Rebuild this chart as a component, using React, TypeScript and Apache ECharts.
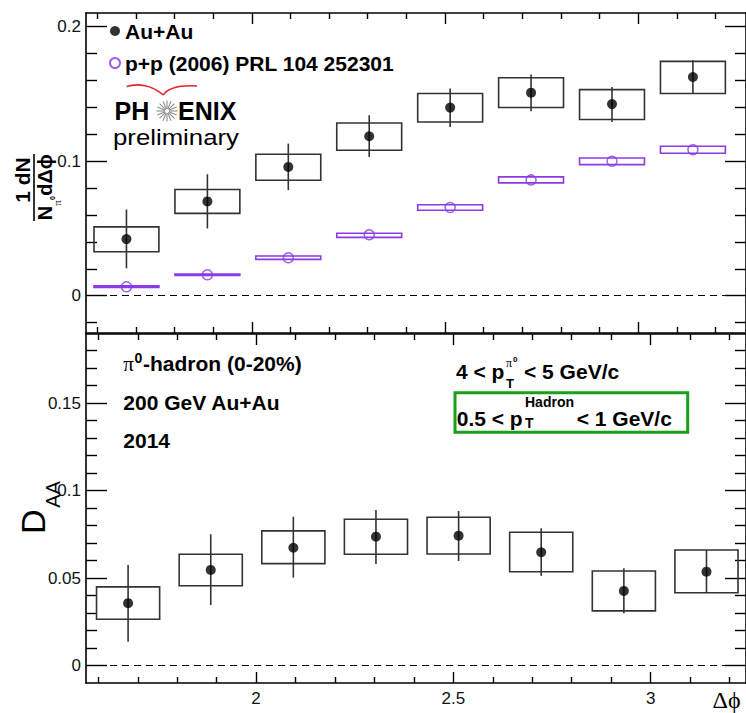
import React, { useEffect, useRef } from 'react';
import * as echarts from 'echarts';

// ---- data ----
const dphi = [1.6755, 1.885, 2.0944, 2.3038, 2.5133, 2.7227, 2.9322, 3.1416];

// top panel: per-trigger yield, Au+Au
const auauYield = [0.0421, 0.0701, 0.0958, 0.1186, 0.1399, 0.151, 0.1425, 0.1626];
const auauStatLo = [0.0204, 0.05, 0.0785, 0.1032, 0.1255, 0.1371, 0.1292, 0.1503];
const auauStatHi = [0.0641, 0.0903, 0.1131, 0.1342, 0.154, 0.1644, 0.1552, 0.175];
const auauSysLo = [0.0327, 0.0612, 0.0859, 0.1082, 0.1292, 0.1399, 0.131, 0.1503];
const auauSysHi = [0.0512, 0.079, 0.1052, 0.1284, 0.1503, 0.1621, 0.1532, 0.1742];

// top panel: p+p reference
const ppYield = [0.0067, 0.0156, 0.0282, 0.0453, 0.0656, 0.0861, 0.1, 0.1085];
const ppSysLo = [0.0061, 0.015, 0.027, 0.0434, 0.0636, 0.0839, 0.0975, 0.1059];
const ppSysHi = [0.0073, 0.0162, 0.0295, 0.0465, 0.0676, 0.0884, 0.1024, 0.1111];

// bottom panel: D_AA
const daa = [0.0357, 0.0547, 0.0674, 0.0737, 0.0743, 0.0648, 0.0427, 0.0537];
const daaStatLo = [0.0137, 0.0347, 0.0503, 0.0581, 0.0598, 0.0513, 0.0299, 0.0414];
const daaStatHi = [0.0575, 0.0751, 0.0851, 0.089, 0.0884, 0.0785, 0.0557, 0.0661];
const daaSysLo = [0.0265, 0.0457, 0.0583, 0.0637, 0.0638, 0.0537, 0.0313, 0.0417];
const daaSysHi = [0.045, 0.0637, 0.077, 0.0837, 0.0848, 0.0762, 0.0541, 0.0661];

// ticks
const topYLabels = [0, 0.1, 0.2];
const topYMinor = [-0.02, 0.02, 0.04, 0.06, 0.08, 0.12, 0.14, 0.16, 0.18];
const botYLabels = [0, 0.05, 0.1, 0.15];
const botYMinor = [0.01, 0.02, 0.03, 0.04, 0.06, 0.07, 0.08, 0.09, 0.11, 0.12, 0.13, 0.14, 0.16, 0.17, 0.18];
const xLabels = [2, 2.5, 3];
const xMinor = [1.6, 1.7, 1.8, 1.9, 2.1, 2.2, 2.3, 2.4, 2.6, 2.7, 2.8, 2.9, 3.1, 3.2];

const seriesNames = ['Au+Au', 'p+p (2006) PRL 104 252301'];

// ---- layout / style ----
const PURPLE = '#8a3be6';
const SANS = "'Liberation Sans', Arial, Helvetica, sans-serif";
const SERIF = "'Liberation Serif', 'DejaVu Serif', serif";

const TOP_X = [1.5708, 3.279];
const TOP_Y = [-0.0277, 0.2102];
const BOT_X = [1.5688, 3.2418];
const BOT_Y = [-0.0099, 0.1895];

function axis(gridIndex: number, position: string, range: number[], ticks: number[], len: number, line: boolean, labels?: number[], margin = 5) {
  return {
    type: 'value',
    gridIndex,
    position,
    min: range[0],
    max: range[1],
    axisLine: { show: line, onZero: false, lineStyle: { color: '#000', width: 1.6 } },
    axisTick: { show: true, inside: true, length: len, customValues: ticks, lineStyle: { color: '#000', width: 1.4 } },
    axisLabel: labels
      ? { show: true, customValues: labels, margin, color: '#111', fontSize: 17, fontFamily: SANS }
      : { show: false },
    splitLine: { show: false },
  };
}

const boxRender = (hw: number, stroke: string, withBar: boolean) => (params: any, api: any) => {
  const x = api.value(0);
  const a = api.coord([x - hw, api.value(5)]);
  const b = api.coord([x + hw, api.value(4)]);
  const children: any[] = [
    {
      type: 'rect',
      shape: { x: a[0], y: a[1], width: b[0] - a[0], height: b[1] - a[1] },
      style: { fill: 'none', stroke, lineWidth: 1.6 },
    },
  ];
  if (withBar) {
    const t = api.coord([x, api.value(3)]);
    const u = api.coord([x, api.value(2)]);
    children.push({
      type: 'line',
      shape: { x1: t[0], y1: t[1], x2: u[0], y2: u[1] },
      style: { stroke: '#333', lineWidth: 1.6 },
    });
  }
  return { type: 'group', children };
};

const zeroLine = {
  silent: true,
  symbol: 'none',
  label: { show: false },
  lineStyle: { type: [7, 5], color: '#000', width: 1.2 },
  data: [{ yAxis: 0 }],
};

function txt(x: number, y: number, text: string, size: number, opts: any = {}) {
  const align = opts.align || 'left';
  return {
    type: 'text',
    x,
    y,
    rotation: opts.rotation || 0,
    scaleX: opts.scaleX || 1,
    z: 100,
    style: {
      text,
      fill: opts.color || '#000',
      fontSize: size,
      fontWeight: opts.weight || 'bold',
      fontFamily: opts.family || SANS,
      textAlign: align,
      align,
      textVerticalAlign: 'middle',
      verticalAlign: 'middle',
    },
  };
}

function starSpokes(cx: number, cy: number) {
  const out: any[] = [];
  for (let i = 0; i < 16; i++) {
    const a = (i * Math.PI) / 8;
    out.push({
      type: 'line',
      z: 100,
      shape: { x1: cx + 2 * Math.cos(a), y1: cy + 2 * Math.sin(a), x2: cx + 10.5 * Math.cos(a), y2: cy + 10.5 * Math.sin(a) },
      style: { stroke: '#8c8c8c', lineWidth: 1.1 },
    });
  }
  return out;
}

export default function App() {
  const ref = useRef<HTMLDivElement>(null);
  useEffect(() => {
    if (!ref.current) return;
    const chart = echarts.init(ref.current, undefined, { renderer: 'svg' });

    const auauRows = dphi.map((x, i) => [x, auauYield[i], auauStatLo[i], auauStatHi[i], auauSysLo[i], auauSysHi[i]]);
    const ppRows = dphi.map((x, i) => [x, ppYield[i], ppYield[i], ppYield[i], ppSysLo[i], ppSysHi[i]]);
    const daaRows = dphi.map((x, i) => [x, daa[i], daaStatLo[i], daaStatHi[i], daaSysLo[i], daaSysHi[i]]);

    const option: any = {
      animation: false,
      backgroundColor: '#fff',
      grid: [
        { left: 86, top: 13, width: 663, height: 320 },
        { left: 86, top: 334, width: 663, height: 349 },
      ],
      xAxis: [
        axis(0, 'bottom', TOP_X, xLabels, 11, true),
        axis(0, 'bottom', TOP_X, xMinor, 6, false),
        axis(0, 'top', TOP_X, xLabels, 11, true),
        axis(0, 'top', TOP_X, xMinor, 6, false),
        axis(1, 'bottom', BOT_X, xLabels, 11, true, xLabels, 7),
        axis(1, 'bottom', BOT_X, xMinor, 6, false),
        axis(1, 'top', BOT_X, xLabels, 11, true),
        axis(1, 'top', BOT_X, xMinor, 6, false),
      ],
      yAxis: [
        axis(0, 'left', TOP_Y, topYLabels, 21, true, topYLabels, 5),
        axis(0, 'left', TOP_Y, topYMinor, 11, false),
        axis(0, 'right', TOP_Y, topYLabels, 21, true),
        axis(0, 'right', TOP_Y, topYMinor, 11, false),
        axis(1, 'left', BOT_Y, botYLabels, 21, true, botYLabels, 5),
        axis(1, 'left', BOT_Y, botYMinor, 11, false),
        axis(1, 'right', BOT_Y, botYLabels, 21, true),
        axis(1, 'right', BOT_Y, botYMinor, 11, false),
      ],
      legend: {
        orient: 'vertical',
        left: 109,
        top: 20,
        padding: 0,
        itemWidth: 10,
        itemHeight: 10,
        itemGap: 10,
        selectedMode: false,
        textStyle: { fontSize: 21, fontWeight: 'bold', fontFamily: SANS, color: '#000', lineHeight: 22 },
        data: seriesNames,
      },
      series: [
        {
          type: 'custom',
          name: 'auauBoxes',
          xAxisIndex: 0,
          yAxisIndex: 0,
          z: 2,
          renderItem: boxRender(0.084, '#333', true),
          encode: { x: 0, y: [1, 2, 3, 4, 5] },
          data: auauRows,
        },
        {
          type: 'custom',
          name: 'ppBoxes',
          xAxisIndex: 0,
          yAxisIndex: 0,
          z: 2,
          renderItem: boxRender(0.084, PURPLE, false),
          encode: { x: 0, y: [1, 4, 5] },
          data: ppRows,
        },
        {
          type: 'scatter',
          name: seriesNames[0],
          xAxisIndex: 0,
          yAxisIndex: 0,
          z: 4,
          symbol: 'circle',
          symbolSize: 10,
          itemStyle: { color: '#000' },
          data: dphi.map((x, i) => [x, auauYield[i]]),
          markLine: zeroLine,
        },
        {
          type: 'scatter',
          name: seriesNames[1],
          xAxisIndex: 0,
          yAxisIndex: 0,
          z: 4,
          symbol: 'circle',
          symbolSize: 10,
          itemStyle: { color: 'rgba(255,255,255,0)', borderColor: PURPLE, borderWidth: 1.5 },
          data: dphi.map((x, i) => [x, ppYield[i]]),
        },
        {
          type: 'custom',
          name: 'daaBoxes',
          xAxisIndex: 4,
          yAxisIndex: 4,
          z: 2,
          renderItem: boxRender(0.08, '#333', true),
          encode: { x: 0, y: [1, 2, 3, 4, 5] },
          data: daaRows,
        },
        {
          type: 'scatter',
          name: 'D_AA',
          xAxisIndex: 4,
          yAxisIndex: 4,
          z: 4,
          symbol: 'circle',
          symbolSize: 10,
          itemStyle: { color: '#000' },
          data: dphi.map((x, i) => [x, daa[i]]),
          markLine: zeroLine,
        },
      ],
      graphic: [
        // PHENIX logo
        { type: 'bezierCurve', z: 100, shape: { x1: 126.7, y1: 86.5, cpx1: 138, cpy1: 83, cpx2: 152, cpy2: 85, x2: 163.3, y2: 95 }, style: { stroke: '#e3262a', lineWidth: 1.6, fill: 'none' } },
        { type: 'bezierCurve', z: 100, shape: { x1: 163.3, y1: 95, cpx1: 168, cpy1: 88, cpx2: 180, cpy2: 85, x2: 197, y2: 86 }, style: { stroke: '#e3262a', lineWidth: 1.6, fill: 'none' } },
        txt(114.5, 111, 'PH', 25),
        ...starSpokes(167, 111),
        txt(178, 111, 'ENIX', 25),
        txt(113, 137, 'preliminary', 23, { weight: 'normal', scaleX: 1.12 }),

        // annotations bottom panel
        txt(123.3, 364, 'π', 21, { weight: 'normal', family: SERIF }),
        txt(134.5, 358, '0', 14),
        txt(143, 363.3, '-hadron (0-20%)', 21),
        txt(123.3, 402.7, '200 GeV Au+Au', 21),
        txt(123.3, 440, '2014', 21),

        txt(456, 371.7, '4 < p', 21),
        txt(506, 383, 'T', 13),
        txt(506, 363, 'π', 12, { weight: 'normal', family: SERIF }),
        txt(513, 359, '0', 8),
        txt(524, 371.7, '< 5 GeV/c', 21),

        txt(456.7, 418, '0.5 < p', 21),
        txt(525, 401.7, 'Hadron', 14),
        txt(525, 422.5, 'T', 14),
        txt(576.7, 418, '< 1 GeV/c', 21),
        { type: 'rect', z: 101, shape: { x: 455, y: 392.7, width: 232.7, height: 39.6 }, style: { fill: 'none', stroke: '#19a019', lineWidth: 3 } },

        // x-axis title
        txt(712.5, 700, 'Δϕ', 24, { weight: 'normal', family: SERIF }),

        // top y-axis title: 1/N dN/dΔϕ (rotated)
        txt(22, 180, '1 dN', 21, { rotation: Math.PI / 2, align: 'center' }),
        { type: 'line', z: 100, shape: { x1: 34, y1: 154, x2: 34, y2: 221 }, style: { stroke: '#000', lineWidth: 1.6 } },
        txt(44.5, 213, 'N', 20, { rotation: Math.PI / 2, align: 'center' }),
        txt(57, 203, 'π', 11, { rotation: Math.PI / 2, align: 'center', weight: 'normal', family: SERIF }),
        txt(52, 198, '0', 7, { rotation: Math.PI / 2, align: 'center' }),
        txt(44.5, 175, 'dΔϕ', 20, { rotation: Math.PI / 2, align: 'center' }),

        // bottom y-axis title D_AA
        txt(33.3, 521.7, 'D', 34, { rotation: Math.PI / 2, align: 'center', weight: 'normal' }),
        txt(52.5, 494.5, 'AA', 20, { rotation: Math.PI / 2, align: 'center', weight: 'normal' }),
      ],
    };

    chart.setOption(option);
    return () => chart.dispose();
  }, []);

  return <div ref={ref} style={{ position: 'absolute', left: 0, top: 0, width: 746, height: 713 }} />;
}
